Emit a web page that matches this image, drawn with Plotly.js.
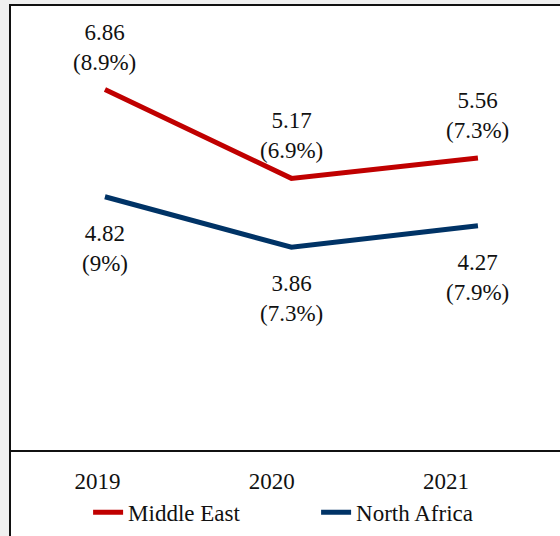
<!DOCTYPE html>
<html>
<head>
<meta charset="utf-8">
<script src="https://cdn.plot.ly/plotly-3.0.1.min.js"></script>
<style>html,body{margin:0;padding:0;background:#f0f0f0;}#chart{width:560px;height:536px;}</style>
</head>
<body>
<div id="chart"></div>
<script>
const years = ['2019', '2020', '2021'];
const middleEast = [6.86, 5.17, 5.56];
const middleEastPct = ['8.9%', '6.9%', '7.3%'];
const northAfrica = [4.82, 3.86, 4.27];
const northAfricaPct = ['9%', '7.3%', '7.9%'];

const FONT = 'Liberation Serif, Cambria, serif';
const RED = '#C00000';
const BLUE = '#003366';

const traces = [
  {x: years, y: middleEast, name: 'Middle East', mode: 'lines', type: 'scatter',
   line: {color: RED, width: 5}, hoverinfo: 'skip'},
  {x: years, y: northAfrica, name: 'North Africa', mode: 'lines', type: 'scatter',
   line: {color: BLUE, width: 5}, hoverinfo: 'skip'},
  // carrier for the category tick labels (drawn on the label axis)
  {x: years, y: years.map(() => null), xaxis: 'x2', yaxis: 'y', mode: 'lines',
   showlegend: false, hoverinfo: 'skip'}
];

const annotations = [];
years.forEach((yr, i) => {
  annotations.push({x: i, y: middleEast[i], xref: 'x', yref: 'y',
    text: middleEast[i].toFixed(2) + '<br>(' + middleEastPct[i] + ')',
    showarrow: false, yanchor: 'bottom', yshift: 13, font: {family: FONT, size: 23, color: '#111'}});
  annotations.push({x: i, y: northAfrica[i], xref: 'x', yref: 'y',
    text: northAfrica[i].toFixed(2) + '<br>(' + northAfricaPct[i] + ')',
    showarrow: false, yanchor: 'top', yshift: -22, font: {family: FONT, size: 23, color: '#111'}});
});

const layout = {
  width: 560, height: 536,
  margin: {l: 10, r: 0, t: 5, b: 86},
  paper_bgcolor: '#f0f0f0',
  plot_bgcolor: 'rgba(0,0,0,0)',
  font: {family: FONT, size: 23, color: '#111'},
  showlegend: true,
  legend: {orientation: 'h', x: 0.142, xanchor: 'left', y: -0.14, yanchor: 'middle',
           font: {family: FONT, size: 23, color: '#111'}, bgcolor: 'rgba(0,0,0,0)',
           entrywidth: 183, entrywidthmode: 'pixels'},
  xaxis: {type: 'category', range: [-0.509, 2.44], showgrid: false, zeroline: false,
          showline: true, linecolor: '#111', linewidth: 2, ticks: '', showticklabels: false,
          fixedrange: true},
  xaxis2: {type: 'category', overlaying: 'x', anchor: 'y', side: 'bottom',
           range: [-0.503, 2.655], showgrid: false, zeroline: false, showline: false,
           ticks: '', ticklabelstandoff: 15,
           tickfont: {family: FONT, size: 23, color: '#111'}, fixedrange: true},
  yaxis: {range: [0, 8.47], visible: false, showgrid: false, zeroline: false, fixedrange: true},
  shapes: [{type: 'rect', xref: 'paper', yref: 'paper', x0: 0, x1: 1.1, y0: -1, y1: 1,
            line: {color: '#111', width: 2}, fillcolor: '#ffffff', layer: 'below'}],
  annotations: annotations
};

Plotly.newPlot('chart', traces, layout, {displayModeBar: false, staticPlot: true});
</script>
</body>
</html>
